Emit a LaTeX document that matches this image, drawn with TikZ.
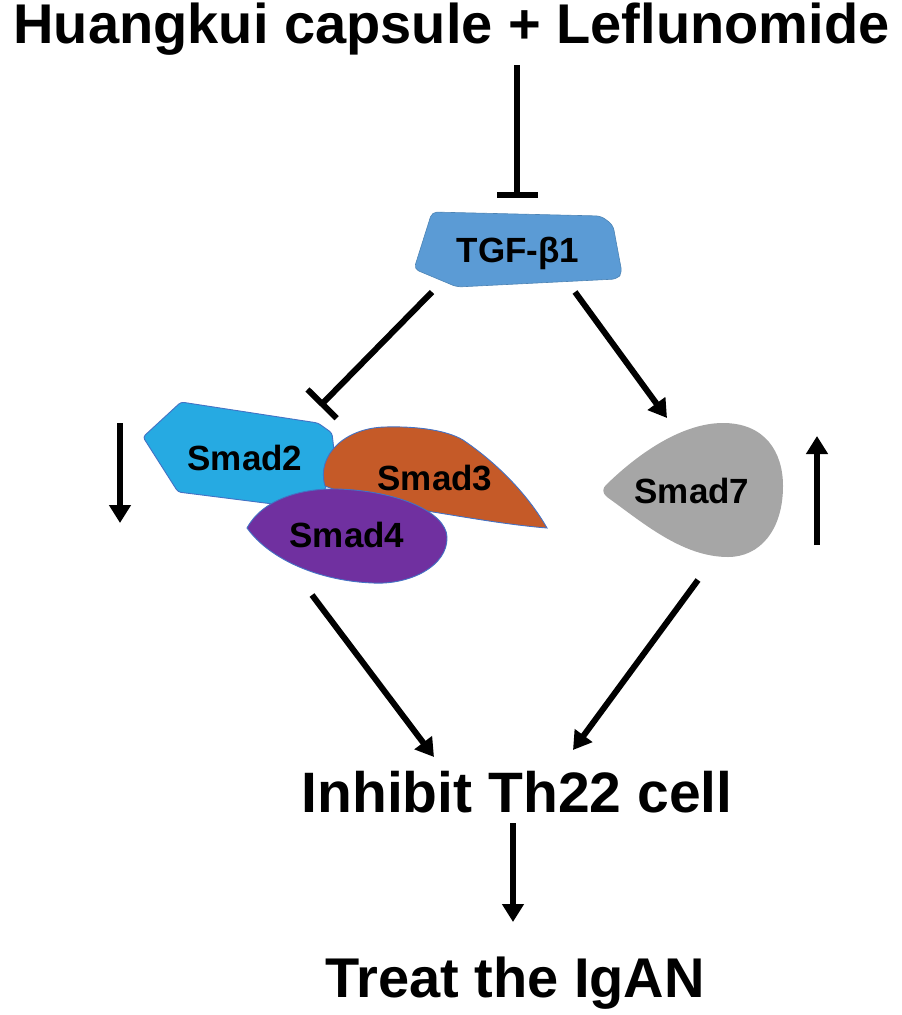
\documentclass[tikz,border=0pt]{standalone}
\usepackage{fontspec}
\setmainfont{Liberation Sans}
\usetikzlibrary{arrows.meta}
\definecolor{tgfc}{RGB}{91,155,213}
\definecolor{smtwo}{RGB}{38,170,226}
\definecolor{smthree}{RGB}{197,90,40}
\definecolor{smfour}{RGB}{112,48,160}
\definecolor{smseven}{RGB}{166,166,166}
\definecolor{edgeblue}{RGB}{68,114,196}
\tikzset{
  bigtext/.style={inner sep=0pt, anchor=base, font=\bfseries\fontsize{56}{60}\selectfont},
  lbl/.style={inner sep=0pt, anchor=base, font=\bfseries\fontsize{35}{40}\selectfont},
  conn/.style={line width=6pt},
  act/.style={conn, -{Triangle[length=18pt,width=21pt]}},
  inh/.style={conn, -{Bar[width=41pt]}},
  blob/.style={draw=edgeblue, line width=0.9pt}
}
\begin{document}
\begin{tikzpicture}[x=1pt,y=-1pt]
\useasboundingbox (0,0) rectangle (902,1015);
% title
\node[bigtext] (title) at (451.5,43) {Huangkui capsule + Leflunomide};
% TGF shape
\path[fill=tgfc, draw=tgfc!85!black, line width=0.6pt, rounded corners=5pt]
  (432,212) -- (601,216) -- (613,225) -- (622,273) -- (617,279) -- (457,287) -- (414,269) -- cycle;
\node[lbl] (tgf) at (518,262) {TGF-β1};
% Smad2
\path[fill=smtwo, blob, rounded corners=3pt]
  (181,402) -- (318,423) -- (332,433) -- (336,468) -- (318,502) -- (273,504) -- (178,492) -- (143,437) -- cycle;
\node[lbl] (smad2) at (245,470) {Smad2};
% Smad3
\path[fill=smthree, blob]
  (325,486) .. controls (316,455) and (345,428) .. (385,427)
  .. controls (420,426) and (448,431) .. (463,440)
  .. controls (500,465) and (530,498) .. (547,528)
  .. controls (510,525) and (470,518) .. (433,512)
  .. controls (390,505) and (350,496) .. (325,486) -- cycle;
\node[lbl] (smad3) at (435,490) {Smad3};
% Smad4
\path[fill=smfour, blob]
  (247,528) .. controls (262,500) and (300,488) .. (338,489)
  .. controls (398,491) and (446,512) .. (447,537)
  .. controls (448,566) and (410,585) .. (373,583)
  .. controls (320,581) and (270,560) .. (247,528) -- cycle;
\node[lbl] (smad4) at (347,547) {Smad4};
% Smad7
\path[fill=smseven]
  (607,484) .. controls (640,452) and (683,423) .. (723,423)
  .. controls (765,423) and (783,452) .. (783,486)
  .. controls (783,530) and (760,557) .. (728,557)
  .. controls (682,557) and (642,522) .. (607,497)
  .. controls (602,493) and (602,488) .. (607,484) -- cycle;
\node[lbl] (smad7) at (692,503) {Smad7};
% bottom texts
\node[bigtext, font=\bfseries\fontsize{57}{60}\selectfont] (inhibit) at (517,812) {Inhibit Th22 cell};
\node[bigtext] (treat) at (515,997) {Treat the IgAN};
% connector end points
\coordinate (t1) at (517,65);
\coordinate (t2) at (517,198);
\coordinate (a1) at (432,292);
\coordinate (a2) at (320,406);
\coordinate (b1) at (575,292);
\coordinate (b2) at (667,418);
\coordinate (c1) at (312,595);
\coordinate (c2) at (434,757);
\coordinate (d1) at (698,580);
\coordinate (d2) at (573,750);
\coordinate (e1) at (513,823);
\coordinate (e2) at (513,922);
\coordinate (f1) at (120,423);
\coordinate (f2) at (120,523);
\coordinate (g1) at (817,545);
\coordinate (g2) at (817,436);
% connectors
\draw[inh] (t1) -- (t2);
\draw[inh] (a1) -- (a2);
\draw[act] (b1) -- (b2);
\draw[act] (c1) -- (c2);
\draw[act] (d1) -- (d2);
\draw[act] (e1) -- (e2);
\draw[act] (f1) -- (f2);
\draw[act] (g1) -- (g2);
\end{tikzpicture}
\end{document}
